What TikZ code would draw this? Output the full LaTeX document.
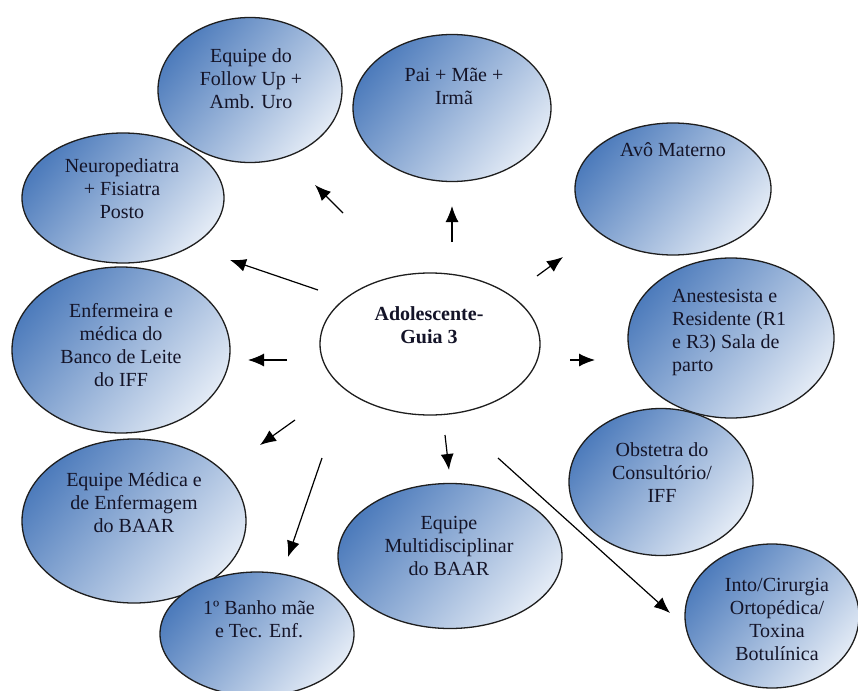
\documentclass[tikz,border=0pt]{standalone}
\usepackage{fontspec}
\setmainfont{Liberation Serif}
\newfontfamily\bubblefont{Liberation Serif}
\usetikzlibrary{shapes.geometric,arrows.meta}

\definecolor{bubbleDark}{RGB}{78,124,188}
\definecolor{bubbleLight}{RGB}{226,234,245}
\definecolor{edgeInk}{RGB}{30,30,30}
\definecolor{textInk}{RGB}{20,20,40}

\tikzset{
  bubble/.style={ellipse, draw=edgeInk, line width=1.3pt, inner sep=0pt,
    top color=bubbleDark, bottom color=bubbleLight, shading angle=50},
  hub/.style={ellipse, draw=edgeInk, line width=1.3pt, fill=white, inner sep=0pt},
  caption/.style={align=center, inner sep=0pt, text=textInk,
    font=\bubblefont\fontsize{20}{23}\selectfont},
  link/.style={draw=black, line width=1.2pt, -{Latex[length=16pt,width=13pt]}}
}

\begin{document}
\begin{tikzpicture}[x=1pt,y=-1pt]
\clip (0,0) rectangle (858,690);
\fill[white] (0,0) rectangle (858,690);

% surrounding ellipses
\node[bubble, minimum width=184pt, minimum height=145pt] (fu)    at (250,90)  {};
\node[bubble, minimum width=198pt, minimum height=147pt] (pai)   at (452,108) {};
\node[bubble, minimum width=202pt, minimum height=130pt] (neuro) at (123,198) {};
\node[bubble, minimum width=218pt, minimum height=166pt] (enf)   at (121,350) {};
\node[bubble, minimum width=224pt, minimum height=164pt] (med)   at (134,521) {};
\node[bubble, minimum width=194pt, minimum height=124pt] (banho) at (257,634) {};
\node[bubble, minimum width=224pt, minimum height=145pt] (multi) at (450,556) {};
\node[bubble, minimum width=196pt, minimum height=132pt] (avo)   at (673,189) {};
\node[bubble, minimum width=206pt, minimum height=160pt] (anest) at (731,338) {};
\node[bubble, minimum width=184pt, minimum height=147pt] (obst)  at (661,482) {};
\node[bubble, minimum width=174pt, minimum height=144pt] (into)  at (772,616) {};

% central ellipse
\node[hub, minimum width=220pt, minimum height=142pt] (hub) at (430,344) {};

% texts
\node[caption] (fu-t)    at (251,79)  {Equipe do\\Follow Up +\\Amb. Uro};
\node[caption] (pai-t)   at (454,86)  {Pai + Mãe +\\Irmã};
\node[caption] (neuro-t) at (122,189) {Neuropediatra\\+ Fisiatra\\Posto};
\node[caption] (enf-t)   at (121,345) {Enfermeira e\\médica do\\Banco de Leite\\do IFF};
\node[caption] (med-t)   at (134,503) {Equipe Médica e\\de Enfermagem\\do BAAR};
\node[caption] (banho-t) at (259,619) {1º Banho mãe\\e Tec. Enf.};
\node[caption] (multi-t) at (449,546) {Equipe\\Multidisciplinar\\do BAAR};
\node[caption] (avo-t)   at (673,150) {Avô Materno};
\node[caption, align=left, anchor=west] (anest-t) at (672,333) {Anestesista e\\Residente (R1\\e R3) Sala de\\parto};
\node[caption] (obst-t)  at (662,473) {Obstetra do\\Consultório/\\IFF};
\node[caption] (into-t)  at (777,619) {Into/Cirurgia\\Ortopédica/\\Toxina\\Botulínica};
\node[caption, font=\bubblefont\fontsize{20}{23}\selectfont\bfseries] (hub-t) at (429,325) {Adolescente-\\Guia 3};

% arrow ends
\coordinate (s1) at (343,213);  \coordinate (e1) at (315,185);
\coordinate (s2) at (452,242);  \coordinate (e2) at (452,206);
\coordinate (s3) at (537,276);  \coordinate (e3) at (563,257);
\coordinate (s4) at (570,360);  \coordinate (e4) at (595,360);
\coordinate (s5) at (318,290);  \coordinate (e5) at (230,260);
\coordinate (s6) at (287,360);  \coordinate (e6) at (248,360);
\coordinate (s7) at (295,420);  \coordinate (e7) at (260,445);
\coordinate (s8) at (322,458);  \coordinate (e8) at (288,557);
\coordinate (s9) at (445,435);  \coordinate (e9) at (449,470);
\coordinate (s10) at (498,458); \coordinate (e10) at (670,613);

% arrows
\draw[link] (s1) -- (e1);
\draw[link] (s2) -- (e2);
\draw[link] (s3) -- (e3);
\draw[link] (s4) -- (e4);
\draw[link] (s5) -- (e5);
\draw[link] (s6) -- (e6);
\draw[link] (s7) -- (e7);
\draw[link] (s8) -- (e8);
\draw[link] (s9) -- (e9);
\draw[link] (s10) -- (e10);
\end{tikzpicture}
\end{document}
